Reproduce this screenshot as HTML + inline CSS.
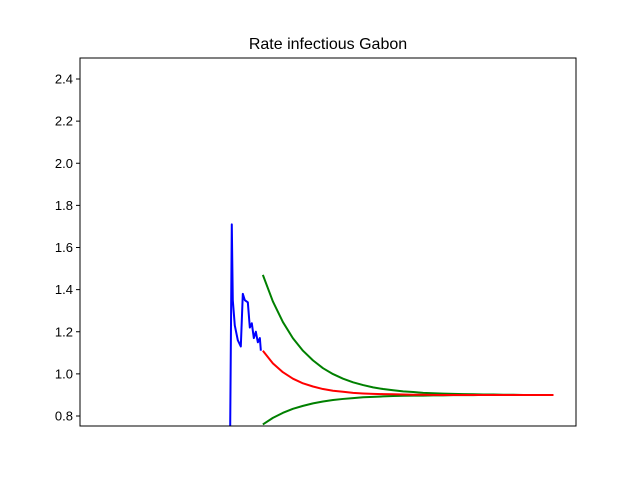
<!DOCTYPE html>
<html><head><meta charset="utf-8"><style>body{margin:0;background:#fff}svg{display:block}</style></head>
<body>
<svg id="chart" width="640" height="480" xmlns="http://www.w3.org/2000/svg" font-family="Liberation Sans, DejaVu Sans, sans-serif">
<rect width="640" height="480" fill="#fff"/>
<text x="328" y="49" font-size="16" text-anchor="middle">Rate infectious Gabon</text>
<defs><clipPath id="clip"><rect x="80" y="58" width="496" height="368"/></clipPath></defs>
<g id="yaxis"></g>
<g id="series" clip-path="url(#clip)"></g>
<rect x="80" y="58" width="496" height="368" fill="none" stroke="#000" stroke-width="1"/>
</svg>
<script>
const yTicks = [0.8,1.0,1.2,1.4,1.6,1.8,2.0,2.2,2.4];
const blueDays = [127,129,130,132,135,138,140,142,145,147,149,151,153,155,157,158];
const blueVals = [0.5,1.71,1.35,1.23,1.16,1.13,1.38,1.35,1.34,1.22,1.24,1.17,1.20,1.15,1.17,1.11];
const fcDays = [160,170,180,190,200,210,220,230,240,250,260,270,280,290,300,310,320,330,340,350,360,370,380,390,400,410,420,430,440,450];
const redVals = [1.11,1.05,1.008,0.977,0.955,0.94,0.928,0.92,0.915,0.91,0.907,0.905,0.904,0.903,0.902,0.901,0.901,0.9,0.9,0.9,0.9,0.9,0.9,0.9,0.9,0.9,0.9,0.9,0.9,0.9];
const upperVals = [1.47,1.344,1.246,1.169,1.11,1.064,1.027,0.999,0.977,0.96,0.947,0.936,0.928,0.922,0.917,0.914,0.91,0.908,0.906,0.905,0.904,0.903,0.902,0.902,0.901,0.901,0.9,0.9,0.9,0.9];
const lowerVals = [0.76,0.791,0.815,0.834,0.848,0.86,0.869,0.876,0.881,0.885,0.889,0.891,0.893,0.895,0.896,0.897,0.897,0.898,0.898,0.899,0.899,0.899,0.9,0.9,0.9,0.9,0.9,0.9,0.9,0.9];

const NS='http://www.w3.org/2000/svg';
const xS = d => 102.5 + (d-0)*(451/450);
const yS = v => 416 - (v-0.8)/0.2*42.125;
const ya = document.getElementById('yaxis');
yTicks.forEach(t=>{
  const y=yS(t);
  const l=document.createElementNS(NS,'line');
  l.setAttribute('x1',76);l.setAttribute('x2',80);l.setAttribute('y1',y);l.setAttribute('y2',y);l.setAttribute('stroke','#000');
  
  
  ya.appendChild(l);
  const tx=document.createElementNS(NS,'text');
  tx.setAttribute('x',73);tx.setAttribute('y',y+4.5);tx.setAttribute('font-size','13');tx.setAttribute('text-anchor','end');
  tx.textContent=t.toFixed(1);
  
  
  ya.appendChild(tx);
});
const sg=document.getElementById('series');
function line(days, vals, color, name){
  const p=document.createElementNS(NS,'polyline');
  p.setAttribute('points',days.map((d,i)=>xS(d)+','+yS(vals[i])).join(' '));
  p.setAttribute('fill','none');p.setAttribute('stroke',color);p.setAttribute('stroke-width','2');p.setAttribute('stroke-linejoin','round');
  
  
  sg.appendChild(p);
}
line(blueDays,blueVals,'#0000ff','observed-line');
line(fcDays,upperVals,'#008000','upper-bound-line');
line(fcDays,lowerVals,'#008000','lower-bound-line');
line(fcDays,redVals,'#ff0000','forecast-line');
</script>
</body></html>
